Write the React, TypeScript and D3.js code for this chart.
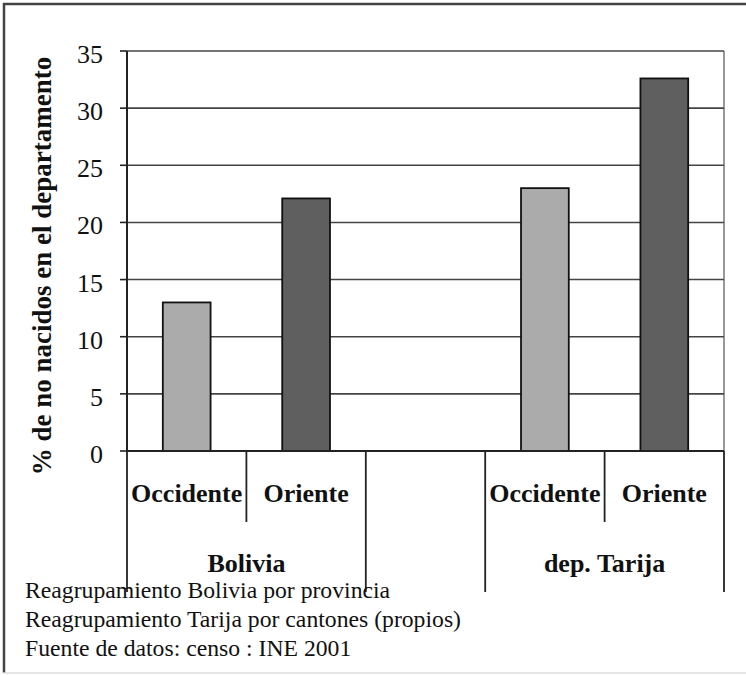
import React from "react";
import * as d3 from "d3";

const categories = ["Occidente", "Oriente", "", "Occidente", "Oriente"];
const groupOf = ["Bolivia", "Bolivia", "", "dep. Tarija", "dep. Tarija"];
const values: (number | null)[] = [13.0, 22.1, null, 23.0, 32.6];
const barColors = ["#ababab", "#5f5f5f", "none", "#ababab", "#5f5f5f"];
const groupNames = ["Bolivia", "dep. Tarija"];
const yTicks = [0, 5, 10, 15, 20, 25, 30, 35];
const yTitle = "% de no nacidos en el departamento";
const notes = [
  "Reagrupamiento Bolivia por provincia",
  "Reagrupamiento Tarija por cantones (propios)",
  "Fuente de datos: censo : INE 2001",
];

const W = 746;
const H = 675;
const left = 127;
const right = 724;
const top = 51;
const bottom = 451;

const serif = "Liberation Serif, DejaVu Serif, Times New Roman, serif";

export default function App() {
  const idx = categories.map((_, i) => i);
  const x = d3.scaleBand<number>().domain(idx).range([left, right]).padding(0);
  const y = d3.scaleLinear().domain([0, 35]).range([bottom, top]);
  const bw = x.bandwidth();
  const barW = bw * 0.4;

  const boundaries = d3.range(categories.length + 1).map((i) => {
    const xb = i < categories.length ? (x(i) as number) : (x(categories.length - 1) as number) + bw;
    const prev = i > 0 ? groupOf[i - 1] : null;
    const next = i < categories.length ? groupOf[i] : null;
    const long = prev === null || next === null || prev !== next || prev === "";
    return { xb, long };
  });

  const ts = { fontFamily: serif } as React.CSSProperties;

  return (
    <svg
      width={W}
      height={H}
      style={{ position: "absolute", left: 0, top: 0, background: "#fff", fontFamily: serif }}
    >
      <line x1={4} x2={4} y1={3} y2={673} stroke="#444" strokeWidth={2.5} />
      <line x1={3} x2={W} y1={4} y2={4} stroke="#444" strokeWidth={2.5} />
      <line x1={3} x2={W} y1={673} y2={673} stroke="#ddd" strokeWidth={1.5} />

      <line x1={right} x2={right} y1={top} y2={bottom} stroke="#999" strokeWidth={2} />

      {yTicks.filter((t) => t > 0).map((t) => (
        <line key={"g" + t} x1={left} x2={right} y1={y(t)} y2={y(t)} stroke="#444" strokeWidth={1.6} />
      ))}

      {values.map((v, i) =>
        v === null ? null : (
          <rect
            key={"b" + i}
            x={(x(i) as number) + bw / 2 - barW / 2}
            y={y(v)}
            width={barW}
            height={y(0) - y(v)}
            fill={barColors[i]}
            stroke="#111"
            strokeWidth={1.8}
          />
        )
      )}

      <line x1={left} x2={left} y1={top} y2={bottom} stroke="#222" strokeWidth={2} />
      {yTicks.map((t) => (
        <g key={"t" + t}>
          <line x1={120} x2={left} y1={y(t)} y2={y(t)} stroke="#222" strokeWidth={1.6} />
          <text x={103} y={y(t) + 12} textAnchor="end" fontSize={26} fill="#111" style={ts}>
            {t}
          </text>
        </g>
      ))}

      <line x1={left} x2={right} y1={bottom} y2={bottom} stroke="#222" strokeWidth={2} />
      {boundaries.map((b, i) => (
        <line
          key={"s" + i}
          x1={b.xb}
          x2={b.xb}
          y1={bottom}
          y2={b.long ? 592 : 522}
          stroke="#222"
          strokeWidth={1.8}
        />
      ))}

      {categories.map((c, i) => (
        <text
          key={"c" + i}
          x={(x(i) as number) + bw / 2}
          y={502}
          textAnchor="middle"
          fontSize={26}
          fontWeight="bold"
          fill="#111"
          style={ts}
        >
          {c}
        </text>
      ))}

      {groupNames.map((g) => {
        const members = idx.filter((i) => groupOf[i] === g);
        const cx = d3.mean(members, (i) => (x(i) as number) + bw / 2) as number;
        return (
          <text key={g} x={cx} y={572} textAnchor="middle" fontSize={26} fontWeight="bold" fill="#111" style={ts}>
            {g}
          </text>
        );
      })}

      <text
        transform={`translate(51, 266) rotate(-90)`}
        textAnchor="middle"
        fontSize={27}
        fontWeight="bold"
        fill="#111"
        style={ts}
      >
        {yTitle}
      </text>

      {notes.map((n, i) => (
        <text key={"n" + i} x={25} y={598 + i * 29} fontSize={23.7} fill="#111" style={ts}>
          {n}
        </text>
      ))}
    </svg>
  );
}
